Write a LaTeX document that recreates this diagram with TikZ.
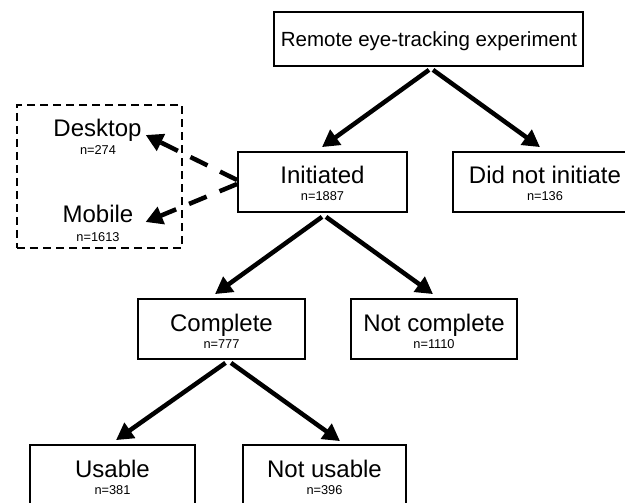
\documentclass[tikz,border=0pt]{standalone}
\usepackage{fontspec}
\setmainfont{Liberation Sans}
\usetikzlibrary{arrows.meta,calc}
\tikzset{
  box/.style={draw, line width=1.8bp, inner sep=0pt, minimum height=60bp},
  big/.style={inner sep=0pt, anchor=base, font=\fontsize{24bp}{28bp}\selectfont},
  mid/.style={inner sep=0pt, anchor=base, font=\fontsize{20.5bp}{24bp}\selectfont},
  small/.style={inner sep=0pt, anchor=base, font=\fontsize{12.8bp}{15bp}\selectfont},
  arr/.style={line width=4.5bp, -{Triangle[length=17bp,width=18bp]}},
  darr/.style={arr, dash pattern=on 19bp off 14bp},
  group/.style={draw, line width=2bp, dash pattern=on 8bp off 5bp, inner sep=0pt}
}
\begin{document}
\begin{tikzpicture}[x=1bp,y=-1bp]
\clip (0,0) rectangle (625,503);
\fill[white] (0,0) rectangle (625,503);

% boxes
\node[box, minimum width=309bp, minimum height=54bp] (top) at (428.5,39) {};
\node[box, minimum width=169bp] (init) at (322.5,182) {};
\node[box, minimum width=184bp] (dni) at (545,182) {};
\node[box, minimum width=167bp] (comp) at (221.5,329) {};
\node[box, minimum width=166bp] (ncomp) at (434,329) {};
\node[box, minimum width=165bp] (use) at (112.5,475) {};
\node[box, minimum width=163bp] (nuse) at (324.5,475) {};
\node[group, minimum width=165bp, minimum height=143bp] (grp) at (99.5,176.5) {};

% texts
\node[mid] (topT) at (429,47) {Remote eye-tracking experiment};
\node[big] (initT) at (322.5,184) {Initiated};
\node[small] (initN) at (322.5,201) {n=1887};
\node[big] (dniT) at (545,184) {Did not initiate};
\node[small] (dniN) at (545,201) {n=136};
\node[big] (compT) at (221.5,331) {Complete};
\node[small] (compN) at (221.5,348) {n=777};
\node[big] (ncompT) at (434,331) {Not complete};
\node[small] (ncompN) at (434,348) {n=1110};
\node[big] (useT) at (112.5,477) {Usable};
\node[small] (useN) at (112.5,494) {n=381};
\node[big] (nuseT) at (324.5,477) {Not usable};
\node[small] (nuseN) at (324.5,494) {n=396};
\node[big] (desk) at (97.5,137) {Desktop};
\node[small] (deskN) at (98,155) {n=274};
\node[big] (mob) at (98,223) {Mobile};
\node[small] (mobN) at (98,242) {n=1613};

% arrows
\draw[arr] ([shift={(0.5,3)}]top.south) -- ([shift={(-0.5,-4)}]init.north);
\draw[arr] ([shift={(4.5,3)}]top.south) -- ([shift={(-5,-4)}]dni.north);
\draw[arr] ([shift={(-0.5,4)}]init.south) -- ([shift={(-6.5,-4)}]comp.north);
\draw[arr] ([shift={(3.5,4)}]init.south) -- ([shift={(-1,-4)}]ncomp.north);
\draw[arr] ([shift={(4,3)}]comp.south) -- ([shift={(3.5,-4)}]use.north);
\draw[arr] ([shift={(9.5,3)}]comp.south) -- ([shift={(15.5,-3)}]nuse.north);

% dashed arrows
\draw[darr] ([shift={(0,-2)}]init.west) -- ([shift={(4,-2)}]desk.base east);
\draw[darr] ([shift={(0,2)}]init.west) -- ([shift={(12,-1)}]mob.base east);
\end{tikzpicture}
\end{document}
